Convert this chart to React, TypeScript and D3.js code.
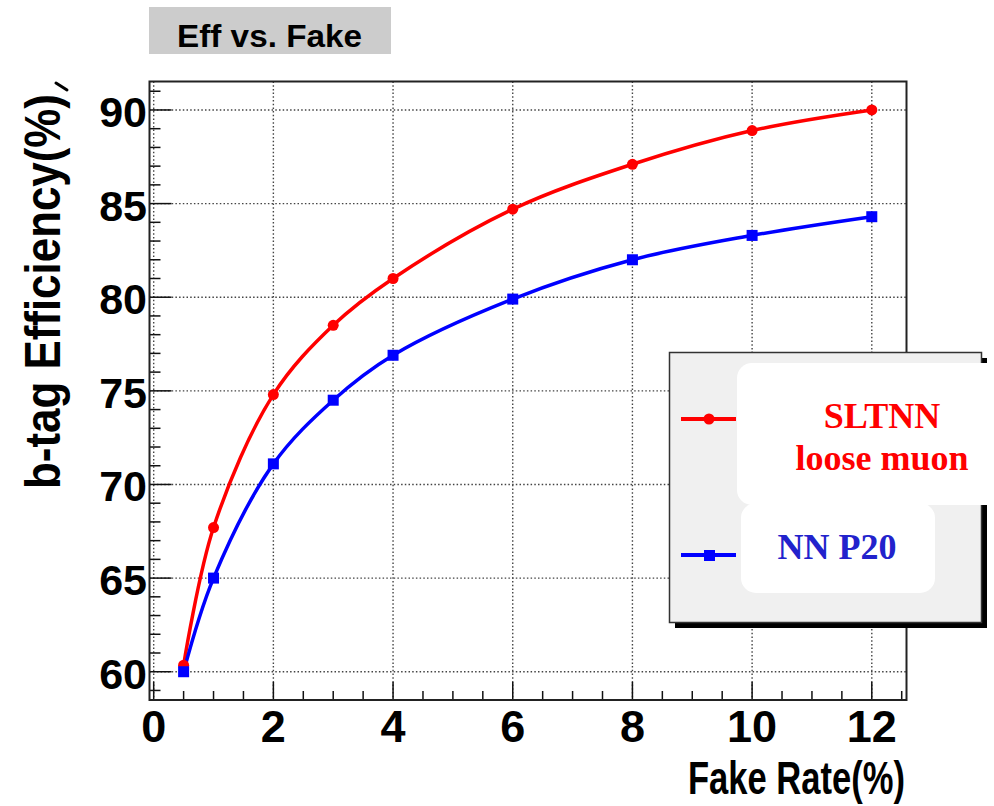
import React from "react";
import * as d3 from "d3";

// Fake rate (%) working points
const fakeRate = [0.5, 1, 2, 3, 4, 6, 8, 10, 12];
// b-tag efficiency (%) for each tagger
const sltnnEff = [60.35, 67.7, 74.8, 78.5, 81.0, 84.7, 87.1, 88.9, 90.0];
const nnP20Eff = [60.0, 65.0, 71.1, 74.5, 76.9, 79.9, 82.0, 83.3, 84.3];

const xMajorTicks = [0, 2, 4, 6, 8, 10, 12];
const yMajorTicks = [60, 65, 70, 75, 80, 85, 90];

const W = 994;
const H = 806;
const frame = { left: 149.5, right: 906.5, top: 81.5, bottom: 700 };

export default function App() {
  const x = d3.scaleLinear().domain([-0.07, 12.58]).range([frame.left, frame.right]);
  const y = d3.scaleLinear().domain([58.49, 91.52]).range([frame.bottom, frame.top]);

  const line = d3
    .line<[number, number]>()
    .x((d) => x(d[0]))
    .y((d) => y(d[1]))
    .curve(d3.curveCatmullRom.alpha(0.5));

  const red = fakeRate.map((f, i) => [f, sltnnEff[i]] as [number, number]);
  const blue = fakeRate.map((f, i) => [f, nnP20Eff[i]] as [number, number]);

  const xMinor = d3.range(0, 12.6, 0.5).filter((v) => !xMajorTicks.includes(v));
  const yMinor = d3.range(59, 92, 1).filter((v) => !yMajorTicks.includes(v));

  const sans = "'Liberation Sans', Arial, Helvetica, sans-serif";
  const serif = "'Liberation Serif', 'Times New Roman', serif";
  const grid = { stroke: "#444", strokeWidth: 1.4, strokeDasharray: "1.5 2.2" };

  return (
    <svg
      width={W}
      height={H}
      style={{ position: "absolute", left: 0, top: 0, background: "#fff" }}
    >
      {/* title box */}
      <rect x={149} y={7} width={242} height={47} fill="#cccccc" />
      <text x={177} y={47} fontFamily={sans} fontWeight="bold" fontSize={32} fill="#000"
        textLength={185} lengthAdjust="spacingAndGlyphs">
        Eff vs. Fake
      </text>

      {/* grid */}
      {xMajorTicks.map((v) => (
        <line key={"gx" + v} x1={x(v)} x2={x(v)} y1={frame.top} y2={frame.bottom} {...grid} />
      ))}
      {yMajorTicks.map((v) => (
        <line key={"gy" + v} x1={frame.left} x2={frame.right} y1={y(v)} y2={y(v)} {...grid} />
      ))}

      {/* ticks */}
      {xMajorTicks.map((v) => (
        <line key={"tx" + v} x1={x(v)} x2={x(v)} y1={frame.bottom} y2={frame.bottom - 18} stroke="#111" strokeWidth={1.5} />
      ))}
      {xMinor.map((v) => (
        <line key={"mx" + v} x1={x(v)} x2={x(v)} y1={frame.bottom} y2={frame.bottom - 9} stroke="#111" strokeWidth={1.5} />
      ))}
      {yMajorTicks.map((v) => (
        <line key={"ty" + v} x1={frame.left} x2={frame.left + 22} y1={y(v)} y2={y(v)} stroke="#111" strokeWidth={1.5} />
      ))}
      {yMinor.map((v) => (
        <line key={"my" + v} x1={frame.left} x2={frame.left + 11} y1={y(v)} y2={y(v)} stroke="#111" strokeWidth={1.5} />
      ))}

      {/* frame */}
      <rect x={frame.left} y={frame.top} width={frame.right - frame.left} height={frame.bottom - frame.top}
        fill="none" stroke="#222" strokeWidth={2} />

      {/* tick labels */}
      {xMajorTicks.map((v) => (
        <text key={"lx" + v} x={x(v)} y={742} textAnchor="middle" fontFamily={sans} fontWeight="bold" fontSize={45} fill="#000">
          {v}
        </text>
      ))}
      {yMajorTicks.map((v) => (
        <text key={"ly" + v} x={147} y={y(v) + 17} textAnchor="end" fontFamily={sans} fontWeight="bold" fontSize={43} fill="#000">
          {v}
        </text>
      ))}

      {/* axis titles */}
      <text x={905} y={794} textAnchor="end" fontFamily={sans} fontWeight="bold" fontSize={46} fill="#000"
        textLength={217} lengthAdjust="spacingAndGlyphs">
        Fake Rate(%)
      </text>
      <text transform="translate(60,489) rotate(-90)" fontFamily={sans} fontWeight="bold" fontSize={50} fill="#000"
        textLength={395} lengthAdjust="spacingAndGlyphs">
        b-tag Efficiency(%)
      </text>
      <line x1={56} y1={83} x2={67} y2={90} stroke="#000" strokeWidth={3} strokeLinecap="round" />

      {/* curves */}
      <path d={line(red) ?? ""} fill="none" stroke="#ff0000" strokeWidth={3.5} />
      <path d={line(blue) ?? ""} fill="none" stroke="#0000ff" strokeWidth={3.5} />
      {red.map((d, i) => (
        <circle key={"rp" + i} cx={x(d[0])} cy={y(d[1])} r={5.5} fill="#ff0000" />
      ))}
      {blue.map((d, i) => (
        <rect key={"bp" + i} x={x(d[0]) - 5.5} y={y(d[1]) - 5.5} width={11} height={11} fill="#0000ff" />
      ))}

      {/* legend */}
      <rect x={675} y={358} width={312} height={270} fill="#000" />
      <rect x={669.5} y={352.5} width={312} height={270} fill="#f0f0f0" stroke="#333" strokeWidth={1.5} />
      <line x1={681} x2={736} y1={419} y2={419} stroke="#ff0000" strokeWidth={4} />
      <circle cx={709} cy={419} r={5.5} fill="#ff0000" />
      <line x1={681} x2={736} y1={555} y2={555} stroke="#0000ff" strokeWidth={4} />
      <rect x={704} y={550} width={11} height={11} fill="#0000ff" />

      <rect x={737} y={363} width={280} height={142} rx={15} fill="#fff" />
      <rect x={741} y={503} width={194} height={90} rx={15} fill="#fff" />
      <text x={882} y={428} textAnchor="middle" fontFamily={serif} fontWeight="bold" fontSize={36} fill="#ff0000">
        SLTNN
      </text>
      <text x={882} y={470} textAnchor="middle" fontFamily={serif} fontWeight="bold" fontSize={36} fill="#ff0000">
        loose muon
      </text>
      <text x={837} y={559} textAnchor="middle" fontFamily={serif} fontWeight="bold" fontSize={36} fill="#2222cc">
        NN P20
      </text>
    </svg>
  );
}
